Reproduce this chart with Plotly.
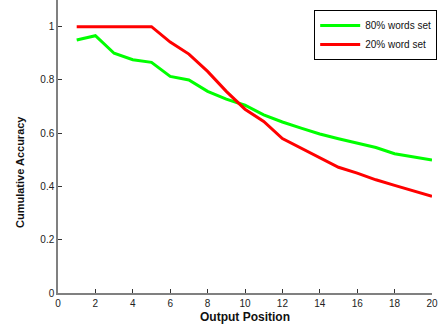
import plotly.graph_objects as go

positions = list(range(1, 21))
acc_80 = [0.95, 0.966, 0.90, 0.876, 0.866, 0.813, 0.80, 0.757, 0.728, 0.705,
          0.669, 0.642, 0.619, 0.597, 0.579, 0.563, 0.546, 0.523, 0.512, 0.499]
acc_20 = [1.0, 1.0, 1.0, 1.0, 1.0, 0.942, 0.897, 0.832, 0.757, 0.69,
          0.644, 0.58, 0.544, 0.509, 0.472, 0.45, 0.425, 0.404, 0.383, 0.363]
names = ["80% words set", "20% word set"]
colors = ["#00ff00", "#ff0000"]
x_ticks = list(range(0, 21, 2))
y_ticks = [0, 0.2, 0.4, 0.6, 0.8, 1]
y_tick_text = ["0", "0.2", "0.4", "0.6", "0.8", "1"]

fig = go.Figure()
for name, ys, c in zip(names, [acc_80, acc_20], colors):
    fig.add_trace(go.Scatter(x=positions, y=ys, mode="lines", name=name,
                             line=dict(color=c, width=3)))

axis_common = dict(showline=True, linecolor="#808080", linewidth=1.5,
                   ticks="inside", ticklen=4, tickcolor="#333",
                   showgrid=False, zeroline=False,
                   tickfont=dict(family="Liberation Sans, Arial", size=10, color="#222"))

fig.update_layout(
    width=439, height=331,
    margin=dict(l=58, r=7, t=0, b=38),
    plot_bgcolor="white", paper_bgcolor="white",
    xaxis=dict(range=[0, 20], tickvals=x_ticks,
               title=dict(text="<b>Output Position</b>", standoff=5,
                          font=dict(family="Liberation Sans, Arial", size=12, color="#111")),
               **axis_common),
    yaxis=dict(range=[0, 1.1], tickvals=y_ticks, ticktext=y_tick_text, **axis_common),
    legend=dict(x=0.685, y=0.966, xanchor="left", yanchor="top",
                bordercolor="black", borderwidth=1, bgcolor="white",
                font=dict(family="Liberation Sans, Arial", size=10, color="#111"),
                tracegroupgap=0, itemwidth=40),
    showlegend=True,
)
fig.add_annotation(text="<b>Cumulative Accuracy</b>", xref="paper", yref="paper",
                   x=0, y=0.413, xshift=-46, textangle=-90, showarrow=False,
                   font=dict(family="Liberation Sans, Arial", size=11, color="#111"))

fig.write_html("out.html")
